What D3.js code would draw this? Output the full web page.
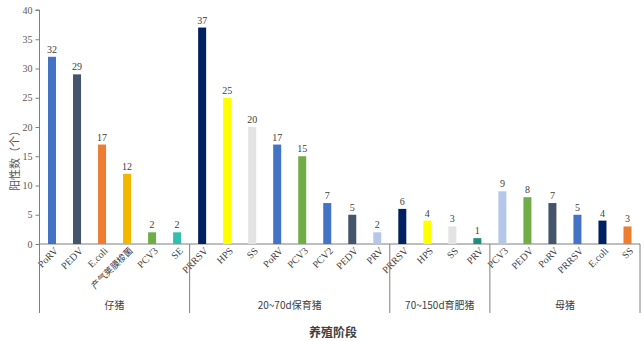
<!DOCTYPE html>
<html><head><meta charset="utf-8">
<script src="https://cdn.jsdelivr.net/npm/d3@7"></script>
<style>body{margin:0;background:#fff}svg{display:block}</style>
</head><body><svg id="c" width="644" height="341"></svg>
<script>
const groups = ["仔猪","20~70d保育猪","70~150d育肥猪","母猪"];
const groupCategories = [
  ["PoRV","PEDV","E.coli","产气荚膜梭菌","PCV3","SE"],
  ["PRRSV","HPS","SS","PoRV","PCV3","PCV2","PEDV","PRV"],
  ["PRRSV","HPS","SS","PRV"],
  ["PCV3","PEDV","PoRV","PRRSV","E.coli","SS"]
];
const groupValues = [
  [32,29,17,12,2,2],
  [37,25,20,17,15,7,5,2],
  [6,4,3,1],
  [9,8,7,5,4,3]
];
const groupColors = [
  ["#4472C4","#44546A","#ED7D31","#F2B800","#70AD47","#33BFB0"],
  ["#002060","#FFFF00","#E3E3E3","#4472C4","#70AD47","#4472C4","#44546A","#B4C7E7"],
  ["#002060","#FFFF00","#E3E3E3","#1F8E7E"],
  ["#B4C7E7","#70AD47","#44546A","#4472C4","#002060","#ED7D31"]
];
const yTicks = [0,5,10,15,20,25,30,35,40];

const rows = [];
groups.forEach((g,gi)=>groupCategories[gi].forEach((c,ci)=>rows.push({key:gi+"-"+ci,group:g,gi,cat:c,v:groupValues[gi][ci],color:groupColors[gi][ci]})));

const svg = d3.select("#c");
const x0 = 39.5, x1 = 640, yBase = 244, yTop = 10;
const x = d3.scaleBand().domain(rows.map(d=>d.key)).range([x0,x1]).paddingInner(0).paddingOuter(0);
const y = d3.scaleLinear().domain([0,40]).range([yBase,yTop]);
const barW = 8;
const serif = "'Liberation Serif','Times New Roman',serif";
const cjk = "'Noto Sans CJK SC','Noto Sans',sans-serif";

// y axis
const ya = svg.append("g").attr("transform",`translate(${x0},0)`)
  .call(d3.axisLeft(y).tickValues(yTicks).tickSize(4).tickPadding(3));
ya.selectAll("path,line").attr("stroke","#7f7f7f");
ya.select("path").attr("d",`M-4,${y(40)}H0V${yBase}`);
ya.selectAll("text").attr("font-family",serif).attr("font-size",10).attr("fill","#595959");

// x axis baseline
svg.append("line").attr("x1",x0).attr("x2",x1).attr("y1",yBase).attr("y2",yBase).attr("stroke","#7f7f7f");

// bars
svg.selectAll("rect.bar").data(rows).join("rect").attr("class","bar")
  .attr("x",d=>x(d.key)+x.bandwidth()/2-barW/2).attr("width",barW)
  .attr("y",d=>y(d.v)).attr("height",d=>yBase-y(d.v)).attr("fill",d=>d.color);

// value labels
svg.selectAll("text.val").data(rows).join("text").attr("class","val")
  .attr("x",d=>x(d.key)+x.bandwidth()/2).attr("y",d=>y(d.v)-4)
  .attr("text-anchor","middle").attr("font-family",serif).attr("font-size",10).attr("fill","#404040")
  .text(d=>d.v);

// category labels
svg.selectAll("text.cat").data(rows).join("text").attr("class","cat")
  .attr("transform",d=>`translate(${x(d.key)+x.bandwidth()/2+4},${yBase+5}) rotate(-45)`)
  .attr("text-anchor","end").attr("dy","0.35em")
  .attr("font-family",d=>/[\u4e00-\u9fff]/.test(d.cat)?cjk:serif)
  .attr("font-size",d=>/[\u4e00-\u9fff]/.test(d.cat)?9:10).attr("fill","#404040")
  .text(d=>d.cat);

// group separators and labels
let idx = 0;
const bounds = [];
groups.forEach((g,gi)=>{const s=idx; idx+=groupCategories[gi].length; bounds.push([s,idx]);});
const step = x.step();
const sepX = [x0, ...bounds.map(b=>x0+b[1]*step)];
svg.selectAll("line.sep").data(sepX).join("line").attr("class","sep")
  .attr("x1",d=>d).attr("x2",d=>d).attr("y1",yBase).attr("y2",313).attr("stroke","#7f7f7f");
svg.selectAll("text.grp").data(groups).join("text").attr("class","grp")
  .attr("x",(d,i)=>x0+(bounds[i][0]+bounds[i][1])/2*step).attr("y",309)
  .attr("text-anchor","middle").attr("font-family",(d)=>cjk).attr("font-size",10).attr("fill","#404040")
  .text(d=>d);

// axis titles
svg.append("text").attr("x",333).attr("y",337).attr("text-anchor","middle")
  .attr("font-family",cjk).attr("font-size",12).attr("font-weight","bold").attr("fill","#404040").text("养殖阶段");
svg.append("text").attr("transform","translate(19,158) rotate(-90)").attr("text-anchor","middle")
  .attr("font-family",cjk).attr("font-size",11).attr("fill","#595959").text("阳性数（个）");
</script></body></html>
